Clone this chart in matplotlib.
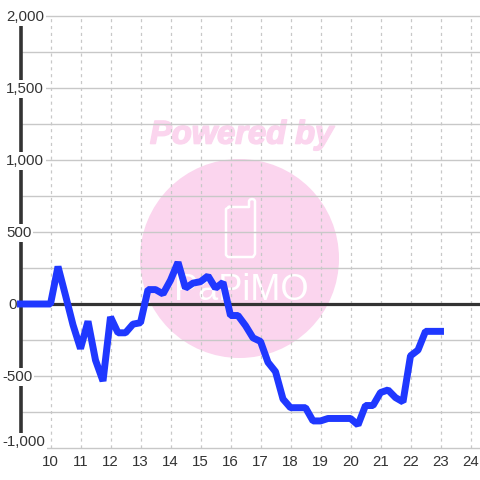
import matplotlib
matplotlib.use('Agg')
import matplotlib.pyplot as plt
import matplotlib.patheffects as pe
from matplotlib.lines import Line2D
from matplotlib.patches import Circle
from matplotlib.transforms import Affine2D

plt.rcParams['font.family'] = ['Liberation Sans', 'DejaVu Sans']

x_ticks = list(range(10, 25))
y_major = [2000, 1500, 1000, 500, 0, -500, -1000]
y_labels = ['2,000', '1,500', '1,000', '500', '0', '-500', '-1,000']
y_minor = [1750, 1250, 750, 250, -250, -750]
hours = [9, 9.25, 9.5, 9.75, 10, 10.25, 10.5, 10.75, 11, 11.25, 11.5, 11.75,
         12, 12.25, 12.5, 12.75, 13, 13.25, 13.5, 13.75, 14, 14.25, 14.5, 14.75,
         15, 15.25, 15.5, 15.75, 16, 16.25, 16.5, 16.75, 17, 17.25, 17.5, 17.75,
         18, 18.25, 18.5, 18.75, 19, 19.25, 19.5, 19.75, 20, 20.25, 20.5, 20.75,
         21, 21.25, 21.5, 21.75, 22, 22.25, 22.5, 22.75, 23]
values = [0, 0, 0, 0, 0, 260, 60, -145, -310, -120, -390, -535,
          -90, -200, -200, -140, -130, 100, 100, 70, 165, 290, 110, 145,
          155, 195, 110, 150, -80, -80, -150, -235, -260, -405, -470, -660,
          -720, -720, -720, -812, -812, -795, -795, -795, -795, -840, -705, -705,
          -615, -597, -650, -680, -360, -320, -190, -190, -190]

W = 480
PINK = '#fbd5ee'
GRID = '#c8c8c8'
DARK = '#333333'

fig = plt.figure(figsize=(4.8, 4.8), dpi=100)
# pixel coordinates with y going down, for the watermark
px = Affine2D().scale(1, -1).translate(0, W)

# zorder below the axes, figure texts otherwise draw on top of them
fig.add_artist(Circle((239.5, 258.5), 99.5, transform=px, fc=PINK, ec='none', zorder=-2))
fig.text(241.5, 135, 'Powered by', transform=px, color=PINK, fontsize=23.5, fontweight='bold',
         style='italic', ha='center', va='center', zorder=-1,
         path_effects=[pe.withStroke(linewidth=1.2, foreground=PINK)])
phone_x = [229, 249, 249, 250, 252, 254, 255, 255, 253, 228, 226, 226, 229]
phone_y = [207, 207, 201, 199.5, 199, 199.5, 201, 254, 257, 257, 255, 209, 207]
fig.add_artist(Line2D(phone_x, phone_y, transform=px, color='white', lw=1.8, solid_joinstyle='round', zorder=-1))
fig.text(241, 290, 'PaPiMO', transform=px, color='white', fontsize=26, ha='center', va='center', zorder=-1)

ax = fig.add_axes([20.5 / W, (W - 448) / W, (W - 20.5) / W, 432 / W])
ax.patch.set_alpha(0)
ax.set_xlim(9, 9 + (W - 20.5) / 30)
ax.set_ylim(-1000, 2000)

for x in x_ticks:
    ax.axvline(x, color=GRID, lw=0.9, ls=(0, (2.5, 3)), zorder=1)
for y in y_major + y_minor:
    ax.axhline(y, color=GRID, lw=1.0, zorder=1, clip_on=False)
ax.axhline(0, color=DARK, lw=2.3, zorder=2)

for s in ['top', 'right', 'bottom']:
    ax.spines[s].set_visible(False)
ax.spines['left'].set_color(DARK)
ax.spines['left'].set_linewidth(2.6)
ax.spines['left'].set_zorder(2)

ax.set_xticks(x_ticks)
ax.set_xticklabels([str(x) for x in x_ticks])
ax.set_yticks([])
ax.tick_params(axis='x', length=0, pad=5, labelsize=10.8, labelcolor=DARK)

# y labels sit on a white box that cuts the axis line
for y, label in zip(y_major, y_labels):
    offs = 6 if y == -1000 else -1
    left = 2 if y < 0 else 6
    if y == 0:
        left = 8
    ax.annotate(label, xy=(0, y), xycoords=('axes fraction', 'data'),
                xytext=(left - 20.5, offs), textcoords='offset pixels', fontsize=10.8, color=DARK,
                ha='left', va='center', zorder=3, annotation_clip=False,
                bbox=dict(fc='white', ec='none', pad=1.5))

ax.plot(hours, values, color='#1f38ff', lw=5, solid_joinstyle='bevel', solid_capstyle='projecting',
        zorder=4, clip_on=False)

fig.savefig('out.png', dpi=100)
